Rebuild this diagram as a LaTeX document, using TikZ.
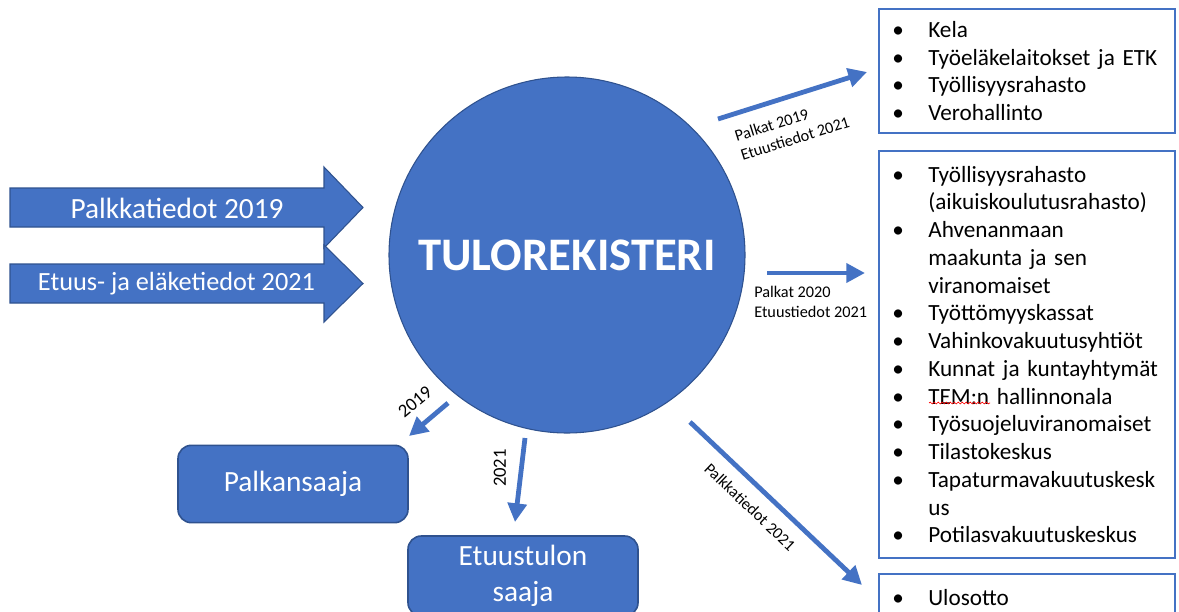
\documentclass[tikz,border=0pt]{standalone}
\usepackage{fontspec}
\setmainfont{Carlito}
\usetikzlibrary{arrows.meta,decorations.pathmorphing}
\definecolor{ofblue}{HTML}{4472C4}
\definecolor{ofdark}{HTML}{2F528F}
\newcommand\bul{\makebox[27pt][l]{•}}
\newcommand\cont{\hspace*{27pt}}
\begin{document}
\begin{tikzpicture}[x=0.75pt,y=-0.75pt,
  fatarrow/.style={fill=ofblue,draw=ofdark,line width=0.8pt},
  fattext/.style={text=white,font=\fontsize{22}{27}\selectfont,inner sep=0pt},
  bluebox/.style={rounded corners=10pt,fill=ofblue,draw=ofdark,line width=1.2pt,text=white,font=\fontsize{22}{27}\selectfont,align=center,inner sep=0pt},
  listbox/.style={draw=ofblue,line width=1.5pt,fill=white,anchor=north west,inner xsep=10pt,inner ysep=0pt,align=left,font=\fontsize{17.4}{20.8}\selectfont,text width=202pt},
  conn/.style={draw=ofblue,line width=3.6pt,-{Triangle[length=14pt,width=14pt]}},
  lbl/.style={font=\fontsize{12.2}{15}\selectfont,inner sep=0pt}]
\path[use as bounding box] (0,0) rectangle (1179,611);
\clip (0,0) rectangle (1179,611);
\fill[white] (0,0) rectangle (1179,611);

% input arrows
\draw[fatarrow] (10,188) -- (324,188) -- (324,167) -- (363,207.5) -- (324,248) -- (324,227) -- (10,227) -- cycle;
\node[fattext] (in1) at (177,208) {Palkkatiedot 2019};
\draw[fatarrow] (10,264) -- (324,264) -- (324,245) -- (363,283.5) -- (324,322) -- (324,303) -- (10,303) -- cycle;
\node[fattext,font=\fontsize{19.7}{24}\selectfont] (in2) at (176.5,284) {Etuus- ja eläketiedot 2021};

% central circle
\node[circle,fill=ofblue,draw=ofdark,line width=0.8pt,minimum size=267pt,inner sep=0pt,text=white,font=\bfseries\fontsize{35}{40}\selectfont] (tr) at (567,255) {TULOREKISTERI};

% receiver boxes
\node[bluebox,minimum width=172.5pt,minimum height=58pt] (pal) at (293,484) {Palkansaaja};
\node[bluebox,minimum width=172.5pt,minimum height=60pt] (etu) at (523,576) {Etuustulon\\saaja};

% list boxes
\node[listbox,minimum height=93pt] (b1) at (878,8) {\bul Kela\\\bul Työeläkelaitokset ja ETK\\\bul Työllisyysrahasto\\\bul Verohallinto};
\node[listbox,minimum height=305.25pt] (b2) at (878,150) {\bul Työllisyysrahasto\\\cont (aikuiskoulutusrahasto)\\\bul Ahvenanmaan\\\cont maakunta ja sen\\\cont viranomaiset\\\bul Työttömyyskassat\\\bul Vahinkovakuutusyhtiöt\\\bul Kunnat ja kuntayhtymät\\\bul TEM:n hallinnonala\\\bul Työsuojeluviranomaiset\\\bul Tilastokeskus\\\bul Tapaturmavakuutuskesk\\\cont us\\\bul Potilasvakuutuskeskus};
\node[listbox,minimum height=36pt] (b3) at (878,573) {\bul Ulosotto};
\draw[red,line width=0.5pt,decorate,decoration={snake,amplitude=0.7pt,segment length=3pt}] (929,403) -- (990,403);

% connectors
\coordinate (c1s) at (718,119);
\coordinate (c1e) at (867,72);
\draw[conn] (c1s) -- (c1e);
\node[lbl,rotate=17.5,align=left] (l1) at (792,129) {Palkat 2019\\Etuustiedot 2021};

\coordinate (c2s) at (767,273);
\coordinate (c2e) at (865,273);
\draw[conn] (c2s) -- (c2e);
\node[lbl,anchor=west,align=left] (l2) at (754,302) {Palkat 2020\\Etuustiedot 2021};

\coordinate (c3s) at (690,422);
\coordinate (c3e) at (862,585);
\draw[conn] (c3s) -- (c3e);
\node[lbl,rotate=-43.5] (l3) at (750,507) {Palkkatiedot 2021};

\coordinate (c4s) at (448,403);
\coordinate (c4e) at (409,436);
\draw[conn] (c4s) -- (c4e);
\node[lbl,font=\fontsize{14}{16}\selectfont,rotate=40] (l4) at (415,402) {2019};

\coordinate (c5s) at (525,438);
\coordinate (c5e) at (515,522);
\draw[conn] (c5s) -- (c5e);
\node[lbl,font=\fontsize{14}{16}\selectfont,rotate=90] (l5) at (500,468) {2021};
\end{tikzpicture}
\end{document}
